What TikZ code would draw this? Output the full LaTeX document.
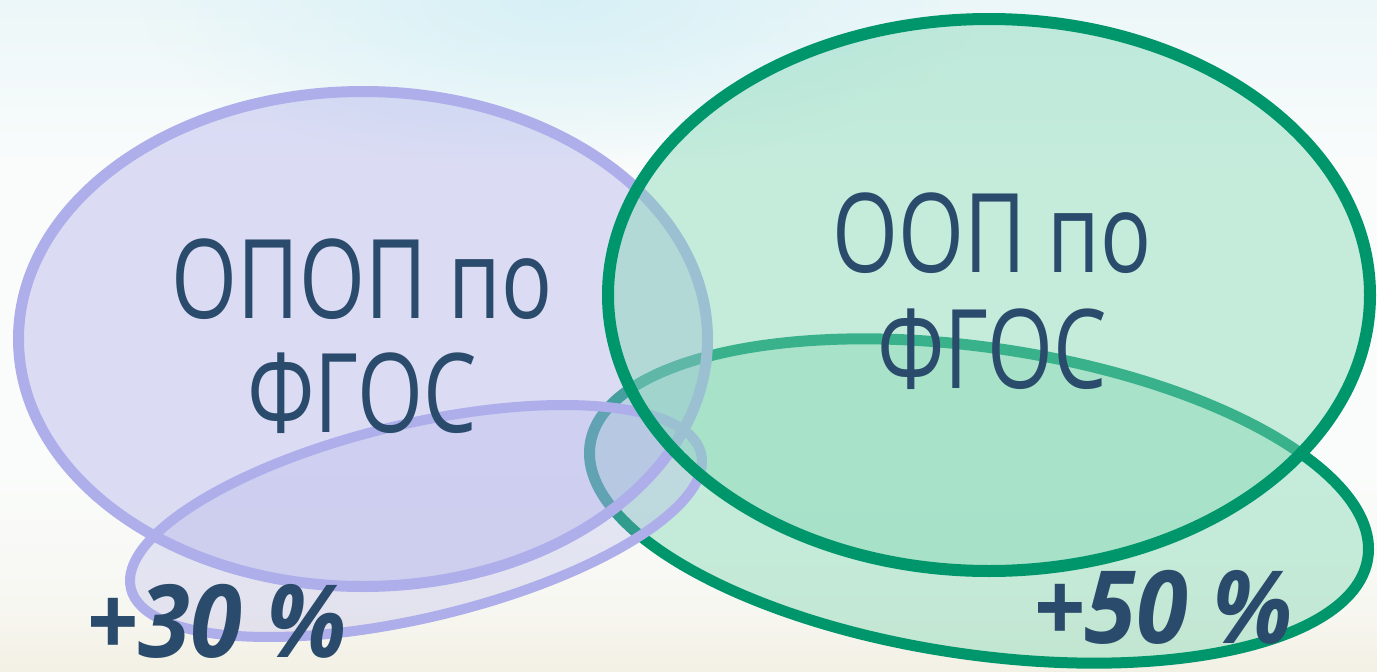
\documentclass[tikz,border=0pt]{standalone}
\usepackage{fontspec}
\usetikzlibrary{shapes.geometric,fadings}
\newfontfamily\labfont[FakeStretch=0.77]{Open Sans}
\newfontfamily\pctfont[FakeStretch=0.93]{Open Sans}
\definecolor{lavline}{RGB}{174,174,234}
\definecolor{grnline}{RGB}{0,150,108}
\definecolor{grnfill}{RGB}{130,215,180}
\definecolor{txt}{RGB}{42,75,107}
\definecolor{bgtop}{RGB}{236,247,249}
\definecolor{bgwhite}{RGB}{250,252,251}
\definecolor{bgbot}{RGB}{243,240,228}
\definecolor{bgcyan}{RGB}{215,240,246}
\pgfdeclareverticalshading{bgshade}{100bp}{color(0bp)=(bgbot); color(25bp)=(bgbot); color(30bp)=(bgwhite!60!bgbot); color(40bp)=(bgwhite); color(62bp)=(bgwhite); color(75bp)=(bgtop); color(100bp)=(bgtop)}
\tikzfading[name=softblob, inner color=transparent!0, outer color=transparent!100]
\tikzset{
  lavbig/.style={ellipse, draw=lavline, line width=11pt, fill=lavline, fill opacity=0.4, inner sep=0pt},
  lavsmall/.style={ellipse, draw=lavline, line width=10pt, fill=lavline, fill opacity=0.27, inner sep=0pt},
  grnell/.style={ellipse, draw=grnline, line width=12pt, fill=grnfill, fill opacity=0.44, inner sep=0pt},
  lowgrn/.style={ellipse, draw=grnline, line width=11pt, fill=grnfill, fill opacity=0.44, inner sep=0pt},
  bigtxt/.style={font=\labfont\fontsize{110}{120}\selectfont, text=txt, anchor=base, inner sep=0pt},
  pcttxt/.style={font=\pctfont\bfseries\itshape\fontsize{101}{110}\selectfont, text=txt, anchor=base, inner sep=0pt}
}
\begin{document}
\begin{tikzpicture}[x=1pt,y=-1pt]
\useasboundingbox (0,0) rectangle (1377,672);
\shade[shading=bgshade] (0,0) rectangle (1377,672);
\fill[bgcyan, path fading=softblob] (560,0) ellipse [x radius=420, y radius=170];
\node[lowgrn, minimum width=786pt, minimum height=307pt, rotate=-8.3] (lg) at (979,501) {};
\node[lavbig, minimum width=689pt, minimum height=495pt] (lb) at (363,339) {};
\node[lavsmall, minimum width=586pt, minimum height=194pt, rotate=13.3] (ls) at (416,521) {};
\node[grnell, minimum width=762pt, minimum height=552pt] (gb) at (989,295) {};
\node[bigtxt] (t1a) at (362,318) {ОПОП по};
\node[bigtxt] (t1b) at (362,432) {ФГОС};
\node[bigtxt] (t2a) at (992,272) {ООП по};
\node[bigtxt] (t2b) at (992,388) {ФГОС};
\node[pcttxt] (p1) at (217,657) {+30 \%};
\node[pcttxt] (p2) at (1163,643) {+50 \%};
\end{tikzpicture}
\end{document}
